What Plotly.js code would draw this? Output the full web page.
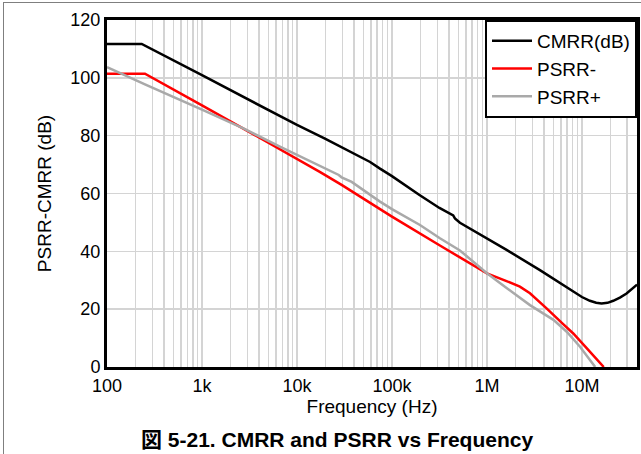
<!DOCTYPE html>
<html>
<head>
<meta charset="utf-8">
<script src="https://cdn.plot.ly/plotly-3.0.1.min.js"></script>
<style>
html,body{margin:0;padding:0;background:#fff;}
#wrap{position:relative;width:641px;height:454px;overflow:hidden;}
#chart{width:641px;height:454px;}
#frame{position:absolute;left:3px;top:2px;right:-5px;bottom:-5px;border-left:1.5px solid #7f7f7f;border-top:1.5px solid #7f7f7f;pointer-events:none;}
</style>
</head>
<body>
<div id="wrap"><div id="chart"></div><div id="frame"></div></div>
<script>
// Frequency (Hz) and dB values
const cmrrFreq = [100, 232, 1000, 3162, 10000, 19953, 39811, 58884, 74131, 100000, 194984, 316228, 441570, 460257, 519996, 1000000, 1610646, 3614099, 6309573, 8128305, 10000000, 12134000, 14125375, 16106456, 18620871, 21379621, 25118864, 29512092, 38018940];
const cmrrDb   = [111.7, 111.7, 100.9, 92.3, 83.7, 78.9, 73.8, 70.9, 68.7, 66.0, 59.5, 55.0, 52.4, 51.4, 49.9, 44.5, 40.5, 33.5, 28.4, 26.0, 24.2, 22.9, 22.2, 22.0, 22.2, 22.9, 24.0, 25.4, 28.5];

const psrrMinusFreq = [100, 251, 1000, 2692, 6607, 10715, 17378, 29512, 74817, 100000, 319890, 519996, 1000000, 1584893, 2223310, 2837919, 3548134, 4246196, 6309573, 8109611, 11220185, 16106456, 16982437];
const psrrMinusDb   = [101.4, 101.4, 90.5, 82.6, 75.3, 71.6, 67.5, 63.0, 54.5, 52.0, 42.0, 38.0, 32.4, 29.8, 27.8, 25.5, 22.8, 20.3, 14.9, 11.6, 6.5, 1.0, 0];

const psrrPlusFreq = [100, 251, 1000, 2692, 6607, 17378, 19724, 27542, 29512, 37670, 74817, 100000, 197242, 319890, 519996, 1000000, 1584893, 2837919, 5011872, 6918310, 9549926, 13182567, 13803843];
const psrrPlusDb   = [103.7, 97.7, 89.0, 82.6, 76.2, 69.6, 68.7, 66.4, 65.6, 64.0, 57.2, 54.6, 49.1, 44.5, 40.3, 32.4, 27.5, 21.4, 16.3, 12.2, 7.0, 1.0, 0];

const xTickVals = [100, 1000, 10000, 100000, 1000000, 10000000];
const xTickText = ['100', '1k', '10k', '100k', '1M', '10M'];
const yTickVals = [0, 20, 40, 60, 80, 100, 120];

const names = ['CMRR(dB)', 'PSRR-', 'PSRR+'];
const colors = ['#000000', '#ff0000', '#a9a9a9'];

const FONT = 'Arial, "Liberation Sans", "Noto Sans CJK JP", sans-serif';

const traces = [
  {x: cmrrFreq, y: cmrrDb, name: names[0], mode: 'lines', line: {color: colors[0], width: 2.5}},
  {x: psrrMinusFreq, y: psrrMinusDb, name: names[1], mode: 'lines', line: {color: colors[1], width: 2.5}},
  {x: psrrPlusFreq, y: psrrPlusDb, name: names[2], mode: 'lines', line: {color: colors[2], width: 2.5}}
];

const layout = {
  width: 641, height: 454,
  margin: {l: 107, r: 4, t: 20, b: 87},
  paper_bgcolor: '#ffffff', plot_bgcolor: '#ffffff',
  font: {family: FONT, size: 18, color: '#000'},
  showlegend: true,
  legend: {
    x: 1, y: 1, xanchor: 'right', yanchor: 'top',
    bgcolor: '#ffffff', bordercolor: '#000000', borderwidth: 2,
    font: {family: FONT, size: 19, color: '#000'},
    itemwidth: 40,
    traceorder: 'normal'
  },
  xaxis: {
    type: 'log', range: [2, 7.58],
    tickvals: xTickVals, ticktext: xTickText,
    showgrid: true, gridcolor: '#d4d4d4', gridwidth: 1.5,
    minor: {dtick: 'D1', showgrid: true, gridcolor: '#d4d4d4', gridwidth: 1.5, ticks: ''},
    showline: true, linecolor: '#000', linewidth: 3, mirror: true,
    ticks: '', zeroline: false,
    tickfont: {family: FONT, size: 18, color: '#000'},
    title: {text: 'Frequency (Hz)', font: {family: FONT, size: 19, color: '#000'}, standoff: 5}
  },
  yaxis: {
    range: [0, 120], tickvals: yTickVals,
    showgrid: true, gridcolor: '#d4d4d4', gridwidth: 1.5,
    showline: true, linecolor: '#000', linewidth: 3, mirror: true,
    ticks: '', zeroline: false,
    tickfont: {family: FONT, size: 18, color: '#000'},
    title: {text: 'PSRR-CMRR (dB)', font: {family: FONT, size: 19, color: '#000'}, standoff: 14}
  },
  annotations: [{
    xref: 'paper', yref: 'paper', x: 0.434, y: -0.21, xanchor: 'center', yanchor: 'middle',
    text: '<b>図 5-21. CMRR and PSRR vs Frequency</b>', showarrow: false,
    font: {family: FONT, size: 21, color: '#000'}
  }]
};

Plotly.newPlot('chart', traces, layout, {staticPlot: true, displayModeBar: false});
</script>
</body>
</html>
